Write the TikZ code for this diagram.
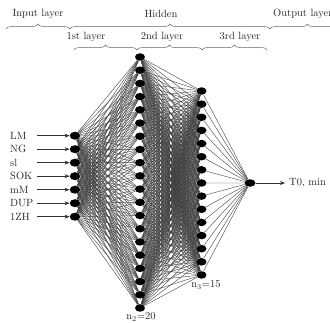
\documentclass[tikz,border=0pt]{standalone}
\usetikzlibrary{shapes.geometric,decorations.pathreplacing,arrows.meta,backgrounds}
\begin{document}
\begin{tikzpicture}[x=1pt,y=-1pt,
  neuron/.style={ellipse,fill=black,minimum width=10pt,minimum height=7.5pt,inner sep=0pt},
  link/.style={black!75,line width=0.4pt},
  lbl/.style={font=\fontsize{10.5}{12}\selectfont,inner sep=0pt,text=black!85},
  brc/.style={decorate,decoration={brace,amplitude=5pt},black!60,line width=0.5pt},
  arr/.style={-{Stealth[length=5pt,width=4pt]},line width=0.5pt,black!80}]
\useasboundingbox (0,0) rectangle (330,322);
% layers
\foreach \i in {1,...,7}
  \node[neuron,minimum width=10.5pt,minimum height=8pt] (a\i) at (75,{135.7+(\i-1)*13.5}) {};
\foreach \i in {1,...,20}
  \node[neuron] (b\i) at (140,{57+(\i-1)*13.21}) {};
\foreach \i in {1,...,15}
  \node[neuron] (c\i) at (201.5,{91+(\i-1)*13.14}) {};
\node[neuron,minimum width=11pt] (o) at (250,183) {};
% links
\begin{scope}[on background layer]
\foreach \i in {1,...,7}
  \foreach \j in {1,...,20}
    \draw[link] (a\i) -- (b\j);
\foreach \i in {1,...,20}
  \foreach \j in {1,...,15}
    \draw[link] (b\i) -- (c\j);
\foreach \j in {1,...,15}
  \draw[link] (c\j) -- (o);
\end{scope}
% inputs
\foreach \t [count=\i] in {LM,NG,sl,SOK,mM,DUP,1ZH} {
  \node[lbl,anchor=west] (l\i) at (10,{135.7+(\i-1)*13.5}) {\t};
  \coordinate (s\i) at (37,{135.7+(\i-1)*13.5});
  \draw[arr] (s\i) -- (a\i);
}
% output
\coordinate (oe) at (285,183);
\draw[arr] (o) -- (oe);
\node[lbl,anchor=west] (ot) at (289,183) {T0, min};
% counts
\node[lbl] (n2) at (141,317) {n\textsubscript{2}=20};
\node[lbl] (n3) at (206,285) {n\textsubscript{3}=15};
% top braces
\coordinate (t1) at (6,29); \coordinate (t2) at (70,29); \coordinate (t3) at (270,29); \coordinate (t4) at (345,29);
\draw[brc] (t1) -- (t2);
\draw[brc] (t2) -- (t3);
\draw[brc] (t3) -- (t4);
\node[lbl] (h1) at (38,14) {Input layer};
\node[lbl] (h2) at (161,14) {Hidden};
\node[lbl,anchor=west] (h3) at (273,14) {Output layer};
% second row braces
\coordinate (u1) at (74,50); \coordinate (u2) at (137,50); \coordinate (u3) at (202,50); \coordinate (u4) at (267,50);
\draw[brc] (u1) -- (u2);
\draw[brc] (u2) -- (u3);
\draw[brc] (u3) -- (u4);
\node[lbl] (g1) at (86,37) {1st layer};
\node[lbl] (g2) at (162,37) {2nd layer};
\node[lbl] (g3) at (240,37) {3rd layer};
\end{tikzpicture}
\end{document}
